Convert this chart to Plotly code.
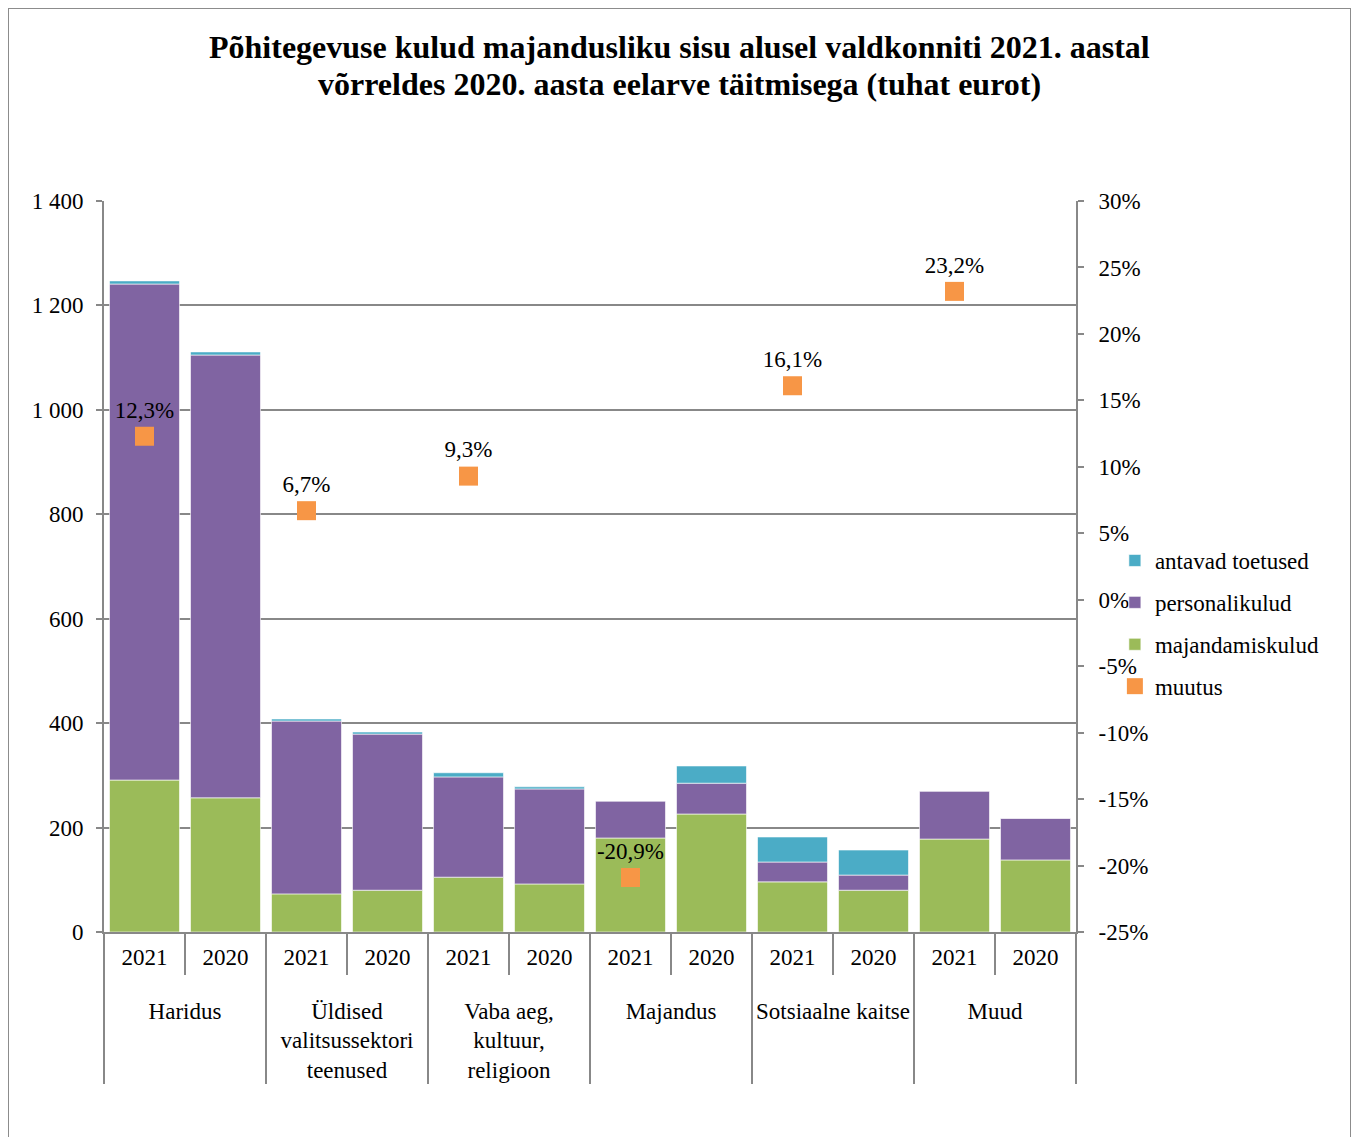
import plotly.graph_objects as go
from plotly.subplots import make_subplots

groups = ["Haridus", "Üldised<br>valitsussektori<br>teenused", "Vaba aeg,<br>kultuur,<br>religioon",
          "Majandus", "Sotsiaalne kaitse", "Muud"]
years = ["2021", "2020"]

majandamiskulud = [291, 257, 73, 80, 105, 92, 180, 226, 96, 80, 178, 138]
personalikulud = [950, 848, 331, 299, 192, 182, 71, 59, 38, 29, 92, 80]
antavad_toetused = [6, 6, 4, 4, 8, 4, 0, 33, 48, 48, 0, 0]
muutus = [12.3, 6.7, 9.3, -20.9, 16.1, 23.2]

title_lines = ["Põhitegevuse kulud majandusliku sisu alusel valdkonniti 2021. aastal",
               "võrreldes 2020. aasta eelarve täitmisega (tuhat eurot)"]

# leading line break gives the group row extra space below the year row
group_labels = ["<br>" + g for g in groups]
x_outer = [g for g in group_labels for _ in years]
x_inner = [y for _ in group_labels for y in years]

FONT = "Liberation Serif"
GRID = "#888888"
FS = 23

fig = make_subplots(specs=[[{"secondary_y": True}]])

bar_line = dict(color="rgba(255,255,255,0.6)", width=1)
fig.add_trace(go.Bar(x=[x_outer, x_inner], y=majandamiskulud, name="majandamiskulud",
                     marker=dict(color="#9BBB59", line=bar_line), legendgroup="c", legendrank=3),
              secondary_y=False)
fig.add_trace(go.Bar(x=[x_outer, x_inner], y=personalikulud, name="personalikulud",
                     marker=dict(color="#8064A2", line=bar_line), legendgroup="b", legendrank=2),
              secondary_y=False)
fig.add_trace(go.Bar(x=[x_outer, x_inner], y=antavad_toetused, name="antavad toetused",
                     marker=dict(color="#4BACC6", line=bar_line), legendgroup="a", legendrank=1),
              secondary_y=False)

fig.add_trace(go.Scatter(x=[group_labels, ["2021"] * len(group_labels)], y=muutus, name="muutus",
                         mode="markers+text",
                         text=[f"{v:.1f}%".replace(".", ",") for v in muutus],
                         textposition="top center",
                         textfont=dict(family=FONT, size=FS, color="black"),
                         marker=dict(symbol="square", size=19, color="#F79646"),
                         legendgroup="d", legendrank=4), secondary_y=True)

fig.update_layout(
    width=1359, height=1137,
    margin=dict(l=96, r=291, t=193, b=213, autoexpand=False),
    paper_bgcolor="white", plot_bgcolor="white",
    barmode="relative", bargap=0.136,
    separators=", ",
    font=dict(family=FONT, size=FS, color="black"),
    legend=dict(x=1.040, xanchor="left", y=0.422, yanchor="middle", traceorder="grouped",
                font=dict(family=FONT, size=FS), tracegroupgap=9,
                bgcolor="rgba(0,0,0,0)"),
    showlegend=True,
)

for line, ypx in zip(title_lines, [47, 84]):
    fig.add_annotation(text=f"<b>{line}</b>",
                       xref="paper", yref="paper", x=(679 - 104) / 972, y=(932 - ypx) / 731,
                       xanchor="center", yanchor="middle", showarrow=False,
                       font=dict(family=FONT, size=32, color="black"))

fig.update_xaxes(type="multicategory", domain=[0, 1], range=[-0.5, 11.5], showline=True,
                 linecolor=GRID, linewidth=2, ticklabelstandoff=3,
                 ticks="", showdividers=True, dividercolor=GRID, dividerwidth=2,
                 tickfont=dict(family=FONT, size=FS, color="black"))
fig.update_yaxes(range=[0, 1400], dtick=200, tickformat=",d", showgrid=True, gridcolor=GRID,
                 gridwidth=2, showline=True, linecolor=GRID, linewidth=2, ticks="outside",
                 tickcolor=GRID, tickwidth=2, ticklen=6, zeroline=False, ticklabelstandoff=8,
                 tickfont=dict(family=FONT, size=FS, color="black"), secondary_y=False)
pct_vals = list(range(-25, 31, 5))
fig.update_yaxes(range=[-25, 30], tickvals=pct_vals, ticktext=[f"{v}%" for v in pct_vals],
                 showgrid=False, showline=True, linecolor=GRID, linewidth=2, ticks="outside",
                 tickcolor=GRID, tickwidth=2, ticklen=6, zeroline=False, ticklabelstandoff=10,
                 tickfont=dict(family=FONT, size=FS, color="black"), secondary_y=True)

# inner tick marks between the two years of each group
for i in range(0, len(x_inner), 2):
    fig.add_shape(type="line", xref="x", yref="paper", x0=i + 0.5, x1=i + 0.5,
                  y0=0, y1=(932 - 975) / 731, line=dict(color=GRID, width=2))

fig.add_shape(type="rect", xref="paper", yref="paper",
              x0=(8 - 104) / 972, x1=(1351 - 104) / 972,
              y0=(932 - 1160) / 731, y1=(932 - 8) / 731,
              line=dict(color="#8c8c8c", width=2), fillcolor="rgba(0,0,0,0)", layer="below")

fig.write_html("out.html")
